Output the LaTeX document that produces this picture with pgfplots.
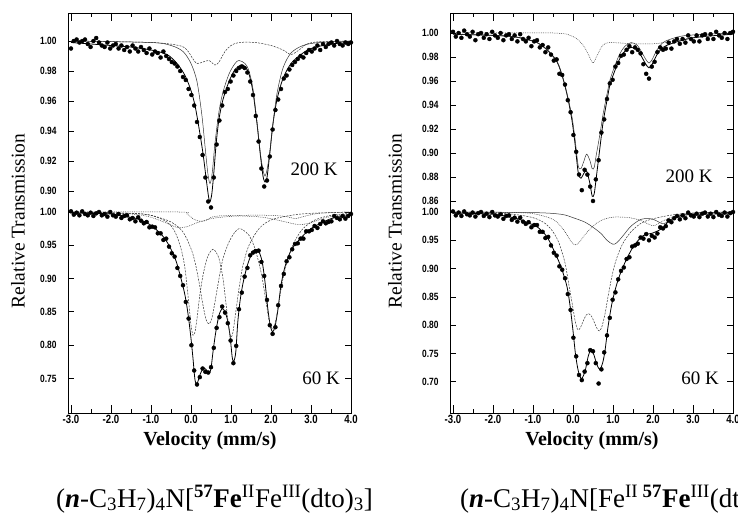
\documentclass[border=0pt]{standalone}
\usepackage{pgfplots}
\pgfplotsset{compat=1.18}
\usepackage{fontspec}
\setmainfont{Liberation Serif}
\newfontfamily\tickfont[FakeStretch=0.8]{Liberation Sans}
\begin{document}
\begin{tikzpicture}
\useasboundingbox (0pt,0pt) rectangle (738pt,517pt);
\pgfplotsset{
  frameax/.style={scale only axis, width=283pt, height=400pt, xmin=-3.075, xmax=4.0, ymin=0, ymax=1,
    ytick=\empty, xtick={-3,-2,-1,0,1,2,3,4}, xticklabels={-3.0,-2.0,-1.0,0.0,1.0,2.0,3.0,4.0},
    minor x tick num=1, xtick pos=both, xticklabel pos=lower, tick align=inside,
    major tick length=8pt, minor tick length=4pt,
    x tick label style={font=\tickfont\bfseries\fontsize{12}{13}\selectfont, yshift=1pt},
    axis line style={line width=0.9pt}, every tick/.style={black, line width=0.8pt}},
  inner/.style={scale only axis, width=283pt, xmin=-3.075, xmax=4.0, hide x axis, clip=false,
    ytick pos=both, yticklabel pos=left, tick align=inside, major tick length=6pt,
    y tick label style={font=\tickfont\bfseries\fontsize{10.5}{12}\selectfont, xshift=-8pt},
    axis line style={line width=0.9pt}, every tick/.style={black, line width=0.8pt}},
  dat/.style={only marks, mark=*, mark size=2pt, black},
  fit/.style={black, line width=0.8pt, smooth, tension=0.5, no marks},
  compA/.style={black!80, line width=0.5pt, smooth, tension=0.5, no marks},
  compB/.style={black!80, line width=0.5pt, smooth, tension=0.5, no marks, dash pattern=on 2pt off 1.2pt},
  compC/.style={black!80, line width=0.5pt, smooth, tension=0.5, no marks, dash pattern=on 0.8pt off 1pt},
}
% ---------- frames ----------
\begin{axis}[frameax, at={(68pt,104pt)}, anchor=south west]
\end{axis}
\begin{axis}[frameax, at={(450pt,104pt)}, anchor=south west]
\end{axis}

% ---------- top left: 200 K ----------
\begin{axis}[inner, at={(68pt,311pt)}, anchor=south west, height=193pt, ymin=0.89, ymax=1.01867,
  ytick={0.90,0.92,0.94,0.96,0.98,1.00}, yticklabels={0.90,0.92,0.94,0.96,0.98,1.00}]
\addplot[dat] coordinates {(-3.00,0.995)(-2.93,1.000)(-2.86,1.001)(-2.79,0.999)(-2.72,1.000)(-2.65,1.001)(-2.58,0.998)(-2.51,0.996)(-2.44,1.000)(-2.37,1.002)(-2.30,0.999)(-2.23,0.997)(-2.16,0.996)(-2.09,0.999)(-2.02,0.995)(-1.95,0.997)(-1.88,0.998)(-1.81,0.995)(-1.74,0.997)(-1.67,0.994)(-1.60,0.996)(-1.53,0.993)(-1.46,0.997)(-1.39,0.995)(-1.32,0.993)(-1.25,0.996)(-1.18,0.994)(-1.11,0.992)(-1.04,0.995)(-0.97,0.991)(-0.90,0.993)(-0.83,0.992)(-0.76,0.989)(-0.69,0.993)(-0.62,0.990)(-0.55,0.988)(-0.48,0.986)(-0.41,0.985)(-0.34,0.983)(-0.27,0.980)(-0.20,0.976)(-0.13,0.974)(-0.06,0.968)(0.01,0.964)(0.08,0.957)(0.15,0.946)(0.22,0.936)(0.29,0.924)(0.36,0.909)(0.43,0.893)(0.50,0.889)(0.57,0.909)(0.64,0.931)(0.71,0.947)(0.78,0.957)(0.85,0.966)(0.92,0.968)(0.99,0.973)(1.06,0.977)(1.13,0.980)(1.20,0.982)(1.27,0.983)(1.34,0.982)(1.41,0.979)(1.48,0.973)(1.55,0.964)(1.62,0.950)(1.69,0.933)(1.76,0.915)(1.83,0.903)(1.90,0.907)(1.97,0.923)(2.04,0.941)(2.11,0.954)(2.18,0.961)(2.25,0.968)(2.32,0.975)(2.39,0.977)(2.46,0.981)(2.53,0.984)(2.60,0.986)(2.67,0.988)(2.74,0.990)(2.81,0.989)(2.88,0.992)(2.95,0.994)(3.02,0.993)(3.09,0.995)(3.16,0.997)(3.23,0.994)(3.30,0.998)(3.37,0.996)(3.44,0.998)(3.51,0.999)(3.58,0.997)(3.65,1.000)(3.72,0.998)(3.79,0.997)(3.86,0.999)(3.93,0.998)(4.00,0.999)};
\addplot[fit] coordinates {(-3.0,0.999)(-2.0,0.997)(-1.5,0.996)(-1.0,0.994)(-0.6,0.991)(-0.35,0.985)(-0.15,0.977)(0.0,0.967)(0.1,0.957)(0.2,0.942)(0.3,0.925)(0.38,0.908)(0.44,0.896)(0.475,0.893)(0.52,0.898)(0.57,0.912)(0.63,0.932)(0.7,0.948)(0.8,0.961)(0.95,0.973)(1.1,0.981)(1.25,0.984)(1.35,0.983)(1.45,0.978)(1.55,0.966)(1.65,0.945)(1.73,0.925)(1.8,0.91)(1.85,0.906)(1.9,0.909)(1.97,0.925)(2.05,0.945)(2.15,0.961)(2.3,0.975)(2.5,0.985)(2.75,0.991)(3.0,0.995)(3.5,0.998)(4.0,0.999)};
\addplot[compA] coordinates {(-3.0,1.000)(-1.0,0.999)(-0.5,0.997)(-0.2,0.993)(0.0,0.985)(0.15,0.973)(0.27,0.951)(0.35,0.93)(0.42,0.912)(0.475,0.905)(0.53,0.912)(0.6,0.932)(0.7,0.953)(0.8,0.966)(0.95,0.978)(1.1,0.985)(1.2,0.987)(1.35,0.985)(1.45,0.98)(1.55,0.968)(1.65,0.946)(1.75,0.922)(1.85,0.91)(1.95,0.922)(2.05,0.945)(2.15,0.965)(2.3,0.982)(2.5,0.992)(2.8,0.997)(3.2,0.999)(4.0,1.000)};
\addplot[compB] coordinates {(-3.0,1.000)(-1.0,0.999)(-0.3,0.997)(-0.1,0.994)(0.05,0.988)(0.15,0.985)(0.3,0.986)(0.45,0.987)(0.6,0.984)(0.7,0.986)(0.85,0.993)(1.0,0.997)(1.2,0.999)(1.6,0.999)(2.0,0.997)(2.3,0.994)(2.5,0.991)(2.7,0.994)(2.9,0.998)(3.2,0.9995)(4.0,1.0)};
\end{axis}

% ---------- bottom left: 60 K ----------
\begin{axis}[inner, at={(68pt,104pt)}, anchor=south west, height=207pt, ymin=0.6982, ymax=1.009,
  ytick={0.75,0.80,0.85,0.90,0.95,1.00}, yticklabels={0.75,0.80,0.85,0.90,0.95,1.00}]
\addplot[dat] coordinates {(-3.00,1.001)(-2.93,0.996)(-2.86,0.999)(-2.79,0.995)(-2.72,1.001)(-2.65,0.997)(-2.58,0.995)(-2.51,0.999)(-2.44,0.994)(-2.37,0.998)(-2.30,1.000)(-2.23,0.995)(-2.16,0.997)(-2.09,0.993)(-2.02,1.000)(-1.95,0.995)(-1.88,0.993)(-1.81,0.997)(-1.74,0.991)(-1.67,0.994)(-1.60,0.995)(-1.53,0.989)(-1.46,0.991)(-1.39,0.986)(-1.32,0.992)(-1.25,0.987)(-1.18,0.983)(-1.11,0.985)(-1.04,0.977)(-0.97,0.978)(-0.90,0.977)(-0.83,0.968)(-0.76,0.968)(-0.69,0.958)(-0.62,0.960)(-0.55,0.948)(-0.48,0.938)(-0.41,0.933)(-0.34,0.916)(-0.27,0.904)(-0.20,0.890)(-0.13,0.865)(-0.06,0.840)(0.01,0.800)(0.08,0.762)(0.15,0.741)(0.22,0.752)(0.29,0.765)(0.36,0.760)(0.43,0.759)(0.50,0.767)(0.57,0.796)(0.64,0.826)(0.71,0.842)(0.78,0.858)(0.85,0.849)(0.92,0.833)(0.99,0.807)(1.06,0.773)(1.13,0.799)(1.20,0.854)(1.27,0.879)(1.34,0.903)(1.41,0.916)(1.48,0.935)(1.55,0.939)(1.62,0.941)(1.69,0.942)(1.76,0.925)(1.83,0.904)(1.90,0.868)(1.97,0.830)(2.04,0.817)(2.11,0.827)(2.18,0.860)(2.25,0.889)(2.32,0.907)(2.39,0.926)(2.46,0.932)(2.53,0.944)(2.60,0.952)(2.67,0.953)(2.74,0.960)(2.81,0.960)(2.88,0.971)(2.95,0.971)(3.02,0.973)(3.09,0.979)(3.16,0.976)(3.23,0.982)(3.30,0.986)(3.37,0.983)(3.44,0.985)(3.51,0.986)(3.58,0.994)(3.65,0.991)(3.72,0.989)(3.79,0.994)(3.86,0.990)(3.93,0.994)(4.00,0.997)};
\addplot[fit] coordinates {(-3.0,0.999)(-2.5,0.998)(-2.0,0.997)(-1.5,0.992)(-1.25,0.988)(-1.0,0.980)(-0.75,0.967)(-0.6,0.955)(-0.45,0.938)(-0.35,0.922)(-0.25,0.900)(-0.15,0.875)(-0.07,0.845)(0.0,0.81)(0.05,0.78)(0.1,0.748)(0.15,0.742)(0.22,0.755)(0.3,0.765)(0.37,0.764)(0.45,0.757)(0.5,0.765)(0.55,0.79)(0.62,0.82)(0.7,0.845)(0.78,0.855)(0.85,0.85)(0.92,0.836)(0.98,0.812)(1.03,0.782)(1.07,0.776)(1.12,0.79)(1.17,0.835)(1.23,0.868)(1.3,0.893)(1.4,0.918)(1.5,0.935)(1.6,0.944)(1.7,0.94)(1.78,0.925)(1.85,0.895)(1.92,0.855)(1.98,0.83)(2.04,0.82)(2.1,0.828)(2.17,0.852)(2.25,0.89)(2.35,0.918)(2.5,0.942)(2.7,0.958)(3.0,0.975)(3.5,0.99)(4.0,0.995)};
\addplot[compB] coordinates {(-3.0,1.0)(-1.5,0.998)(-1.0,0.995)(-0.6,0.985)(-0.4,0.97)(-0.25,0.945)(-0.15,0.915)(-0.05,0.86)(0.0,0.83)(0.05,0.815)(0.1,0.82)(0.15,0.84)(0.22,0.875)(0.3,0.905)(0.4,0.93)(0.5,0.942)(0.55,0.944)(0.6,0.942)(0.7,0.93)(0.8,0.9)(0.88,0.86)(0.95,0.825)(1.0,0.812)(1.05,0.82)(1.12,0.85)(1.2,0.885)(1.3,0.92)(1.45,0.95)(1.7,0.975)(2.0,0.988)(2.5,0.995)(3.0,0.998)(4.0,1.0)};
\addplot[compB] coordinates {(-3.0,1.0)(-1.5,0.998)(-1.0,0.995)(-0.5,0.985)(-0.2,0.97)(0.0,0.945)(0.1,0.925)(0.2,0.895)(0.3,0.86)(0.38,0.838)(0.45,0.832)(0.52,0.84)(0.6,0.865)(0.7,0.9)(0.8,0.93)(0.95,0.955)(1.1,0.97)(1.2,0.975)(1.3,0.973)(1.45,0.965)(1.6,0.945)(1.75,0.91)(1.85,0.875)(1.95,0.838)(2.03,0.825)(2.1,0.832)(2.2,0.865)(2.3,0.9)(2.45,0.935)(2.6,0.957)(2.8,0.975)(3.1,0.988)(3.5,0.995)(4.0,0.998)};
\addplot[compC] coordinates {(-3.0,1.0)(-1.5,0.997)(-1.0,0.992)(-0.6,0.983)(-0.35,0.977)(-0.1,0.978)(0.2,0.985)(0.6,0.991)(1.2,0.994)(1.8,0.992)(2.3,0.986)(2.7,0.981)(3.0,0.984)(3.4,0.992)(4.0,0.997)};
\addplot[compC] coordinates {(-3.0,1.0)(-0.3,1.0)(-0.1,0.997)(0.05,0.99)(0.15,0.987)(0.3,0.986)(0.4,0.988)(0.5,0.992)(0.7,0.994)(1.2,0.995)(2.0,0.995)(2.4,0.993)(2.6,0.99)(2.8,0.993)(3.2,0.998)(4.0,1.0)};
\end{axis}

% ---------- top right: 200 K ----------
\begin{axis}[inner, at={(450pt,311pt)}, anchor=south west, height=193pt, ymin=0.85583, ymax=1.01667,
  ytick={0.86,0.88,0.90,0.92,0.94,0.96,0.98,1.00}, yticklabels={0.86,0.88,0.90,0.92,0.94,0.96,0.98,1.00}]
\addplot[dat] coordinates {(-3.00,1.001)(-2.93,0.997)(-2.86,1.000)(-2.79,0.996)(-2.72,1.002)(-2.65,0.999)(-2.58,0.997)(-2.51,1.001)(-2.44,0.994)(-2.37,0.999)(-2.30,1.000)(-2.23,0.996)(-2.16,0.999)(-2.09,0.995)(-2.02,1.001)(-1.95,0.998)(-1.88,0.996)(-1.81,1.000)(-1.74,0.994)(-1.67,0.998)(-1.60,0.999)(-1.53,0.995)(-1.46,0.998)(-1.39,0.993)(-1.32,0.999)(-1.25,0.995)(-1.18,0.993)(-1.11,0.996)(-1.04,0.989)(-0.97,0.993)(-0.90,0.994)(-0.83,0.988)(-0.76,0.990)(-0.69,0.984)(-0.62,0.988)(-0.55,0.982)(-0.48,0.977)(-0.41,0.978)(-0.34,0.966)(-0.27,0.965)(-0.20,0.957)(-0.13,0.944)(-0.06,0.934)(0.01,0.915)(0.08,0.901)(0.15,0.882)(0.22,0.869)(0.29,0.886)(0.36,0.882)(0.43,0.872)(0.50,0.860)(0.57,0.878)(0.64,0.894)(0.71,0.917)(0.78,0.928)(0.85,0.945)(0.92,0.958)(0.99,0.961)(1.06,0.972)(1.13,0.975)(1.20,0.981)(1.27,0.982)(1.34,0.986)(1.41,0.989)(1.48,0.984)(1.55,0.988)(1.62,0.986)(1.69,0.983)(1.76,0.974)(1.83,0.966)(1.90,0.962)(1.97,0.972)(2.04,0.976)(2.11,0.984)(2.18,0.988)(2.25,0.986)(2.32,0.987)(2.39,0.992)(2.46,0.987)(2.53,0.993)(2.60,0.995)(2.67,0.991)(2.74,0.995)(2.81,0.992)(2.88,0.998)(2.95,0.995)(3.02,0.993)(3.09,0.998)(3.16,0.993)(3.23,0.998)(3.30,0.999)(3.37,0.995)(3.44,0.999)(3.51,0.995)(3.58,1.001)(3.65,0.998)(3.72,0.996)(3.79,1.000)(3.86,0.995)(3.93,1.000)(4.00,1.001)};
\addplot[fit] coordinates {(-3.0,0.999)(-2.0,0.998)(-1.5,0.997)(-1.2,0.995)(-0.9,0.992)(-0.65,0.986)(-0.4,0.976)(-0.25,0.962)(-0.125,0.945)(-0.025,0.927)(0.05,0.908)(0.1,0.892)(0.14,0.882)(0.2,0.879)(0.27,0.883)(0.34,0.885)(0.42,0.875)(0.48,0.864)(0.53,0.866)(0.58,0.879)(0.675,0.905)(0.75,0.925)(0.85,0.944)(0.925,0.957)(1.05,0.969)(1.175,0.979)(1.3,0.985)(1.45,0.988)(1.6,0.986)(1.72,0.980)(1.82,0.974)(1.9,0.971)(1.98,0.974)(2.1,0.982)(2.25,0.988)(2.45,0.991)(2.85,0.995)(3.25,0.997)(4.0,0.999)};
\addplot[compA] coordinates {(-3.0,0.999)(-2.0,0.998)(-1.5,0.997)(-1.2,0.995)(-0.9,0.992)(-0.65,0.986)(-0.4,0.9765)(-0.25,0.9625)(-0.125,0.946)(-0.025,0.930)(0.05,0.912)(0.1,0.897)(0.14,0.888)(0.2,0.887)(0.27,0.893)(0.34,0.899)(0.42,0.894)(0.48,0.887)(0.53,0.888)(0.58,0.898)(0.675,0.916)(0.75,0.932)(0.85,0.949)(0.925,0.961)(1.05,0.973)(1.175,0.983)(1.3,0.989)(1.45,0.992)(1.6,0.990)(1.72,0.984)(1.82,0.978)(1.9,0.975)(1.98,0.978)(2.1,0.986)(2.25,0.992)(2.45,0.995)(2.85,0.998)(4.0,1.0)};
\addplot[compC] coordinates {(-3.0,1.0)(-0.5,1.0)(0.0,0.997)(0.25,0.99)(0.4,0.981)(0.5,0.975)(0.6,0.981)(0.75,0.99)(0.95,0.992)(1.5,0.991)(2.0,0.991)(2.5,0.993)(3.0,0.996)(3.5,0.998)(4.0,0.999)};
\end{axis}

% ---------- bottom right: 60 K ----------
\begin{axis}[inner, at={(450pt,104pt)}, anchor=south west, height=207pt, ymin=0.6449, ymax=1.0106,
  ytick={0.70,0.75,0.80,0.85,0.90,0.95,1.00}, yticklabels={0.70,0.75,0.80,0.85,0.90,0.95,1.00}]
\addplot[dat] coordinates {(-3.00,1.001)(-2.93,0.994)(-2.86,0.999)(-2.79,0.993)(-2.72,1.001)(-2.65,0.996)(-2.58,0.994)(-2.51,0.999)(-2.44,0.992)(-2.37,0.998)(-2.30,1.000)(-2.23,0.993)(-2.16,0.997)(-2.09,0.991)(-2.02,1.000)(-1.95,0.994)(-1.88,0.992)(-1.81,0.996)(-1.74,0.988)(-1.67,0.993)(-1.60,0.994)(-1.53,0.986)(-1.46,0.990)(-1.39,0.983)(-1.32,0.990)(-1.25,0.983)(-1.18,0.979)(-1.11,0.982)(-1.04,0.973)(-0.97,0.977)(-0.90,0.977)(-0.83,0.965)(-0.76,0.965)(-0.69,0.954)(-0.62,0.956)(-0.55,0.941)(-0.48,0.928)(-0.41,0.923)(-0.34,0.904)(-0.27,0.898)(-0.20,0.883)(-0.13,0.855)(-0.06,0.827)(0.01,0.778)(0.08,0.745)(0.15,0.712)(0.22,0.703)(0.29,0.718)(0.36,0.733)(0.43,0.756)(0.50,0.754)(0.57,0.733)(0.64,0.697)(0.71,0.722)(0.78,0.752)(0.85,0.782)(0.92,0.813)(0.99,0.845)(1.06,0.858)(1.13,0.881)(1.20,0.896)(1.27,0.902)(1.34,0.917)(1.41,0.920)(1.48,0.939)(1.55,0.941)(1.62,0.944)(1.69,0.955)(1.76,0.953)(1.83,0.961)(1.90,0.950)(1.97,0.958)(2.04,0.955)(2.11,0.962)(2.18,0.973)(2.25,0.971)(2.32,0.975)(2.39,0.985)(2.46,0.982)(2.53,0.989)(2.60,0.993)(2.67,0.987)(2.74,0.994)(2.81,0.989)(2.88,0.999)(2.95,0.994)(3.02,0.992)(3.09,0.997)(3.16,0.991)(3.23,0.997)(3.30,0.999)(3.37,0.992)(3.44,0.997)(3.51,0.991)(3.58,1.000)(3.65,0.995)(3.72,0.993)(3.79,0.999)(3.86,0.992)(3.93,0.998)(4.00,1.000)};
\addplot[fit] coordinates {(-3.0,0.998)(-2.0,0.996)(-1.5,0.99)(-1.3,0.986)(-1.1,0.98)(-0.9,0.974)(-0.65,0.956)(-0.4,0.92)(-0.275,0.898)(-0.15,0.868)(-0.075,0.835)(0.0,0.79)(0.06,0.75)(0.12,0.723)(0.17,0.71)(0.22,0.706)(0.3,0.718)(0.38,0.745)(0.45,0.757)(0.52,0.748)(0.6,0.73)(0.67,0.722)(0.74,0.733)(0.8,0.755)(0.875,0.797)(0.975,0.839)(1.1,0.874)(1.25,0.903)(1.5,0.938)(1.75,0.958)(2.0,0.963)(2.25,0.972)(2.43,0.986)(2.85,0.995)(4.0,0.997)};
\addplot[compB] coordinates {(-3.0,1.0)(-2.0,0.998)(-1.5,0.996)(-1.0,0.99)(-0.7,0.98)(-0.5,0.965)(-0.35,0.945)(-0.2,0.91)(-0.1,0.87)(0.0,0.83)(0.06,0.805)(0.12,0.792)(0.18,0.795)(0.26,0.808)(0.33,0.818)(0.4,0.82)(0.47,0.815)(0.55,0.802)(0.61,0.793)(0.66,0.79)(0.72,0.797)(0.8,0.82)(0.9,0.86)(1.0,0.895)(1.1,0.92)(1.25,0.945)(1.45,0.965)(1.7,0.98)(2.0,0.988)(2.5,0.995)(3.0,0.998)(4.0,1.0)};
\addplot[compC] coordinates {(-3.0,1.0)(-1.5,0.999)(-1.0,0.997)(-0.6,0.99)(-0.4,0.982)(-0.2,0.965)(-0.05,0.948)(0.05,0.942)(0.15,0.946)(0.3,0.96)(0.5,0.975)(0.7,0.985)(1.0,0.991)(1.4,0.99)(1.7,0.985)(1.9,0.978)(2.0,0.976)(2.1,0.978)(2.3,0.986)(2.6,0.994)(3.0,0.998)(4.0,1.0)};
\addplot[compA] coordinates {(-3.0,1.0)(-1.0,0.999)(-0.3,0.996)(0.0,0.99)(0.3,0.982)(0.5,0.973)(0.7,0.962)(0.85,0.95)(1.0,0.943)(1.1,0.946)(1.25,0.958)(1.45,0.975)(1.7,0.987)(1.95,0.988)(2.1,0.984)(2.25,0.979)(2.4,0.984)(2.6,0.992)(3.0,0.998)(4.0,1.0)};
\end{axis}

% ---------- texts ----------
\node[rotate=90, font=\fontsize{19.5}{21}\selectfont] at (18pt,296pt) {Relative Transmission};
\node[rotate=90, font=\fontsize{19.5}{21}\selectfont] at (395pt,296pt) {Relative Transmission};
\node[font=\bfseries\fontsize{20}{22}\selectfont] at (210pt,76pt) {Velocity (mm/s)};
\node[font=\bfseries\fontsize{20}{22}\selectfont] at (592pt,76pt) {Velocity (mm/s)};
\node[font=\fontsize{19}{21}\selectfont] at (314pt,348pt) {200 K};
\node[font=\fontsize{19}{21}\selectfont] at (321pt,139pt) {60 K};
\node[font=\fontsize{19}{21}\selectfont] at (689pt,341pt) {200 K};
\node[font=\fontsize{19}{21}\selectfont] at (700pt,139pt) {60 K};
\node[anchor=base west, inner sep=0pt, font=\fontsize{27}{30}\selectfont] at (56pt,10pt)
  {(\textbf{\textit{n}}-C\textsubscript{3}H\textsubscript{7})\textsubscript{4}N[\textsuperscript{\textbf{57}}\textbf{Fe}\textsuperscript{II}Fe\textsuperscript{III}(dto)\textsubscript{3}]};
\node[anchor=base west, inner sep=0pt, font=\fontsize{27}{30}\selectfont] at (460pt,10pt)
  {(\textbf{\textit{n}}-C\textsubscript{3}H\textsubscript{7})\textsubscript{4}N[Fe\textsuperscript{II}\,\textsuperscript{\textbf{57}}\textbf{Fe}\textsuperscript{III}(dto)\textsubscript{3}]};
\end{tikzpicture}
\end{document}
